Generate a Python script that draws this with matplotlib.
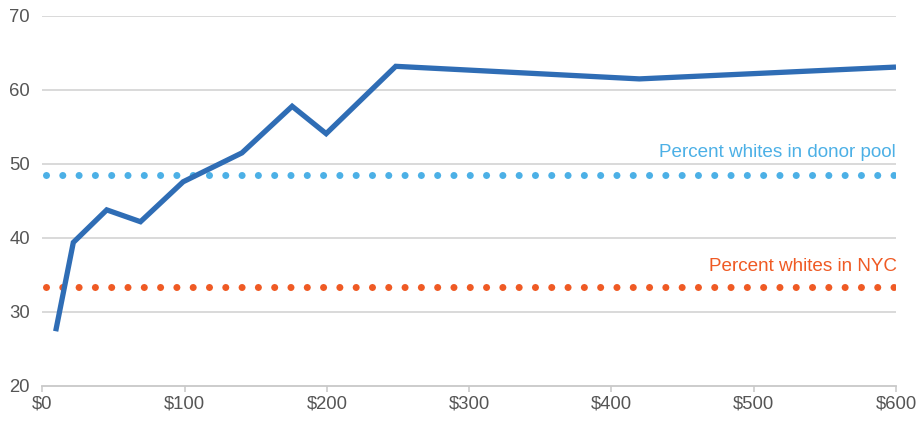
import matplotlib
matplotlib.use("Agg")
import matplotlib.pyplot as plt

# Data
donation = [9.4, 21.8, 45.3, 69, 99, 140.3, 175.6, 199.5, 248.4, 419.6, 600]
pct_white = [27.4, 39.4, 43.8, 42.2, 47.6, 51.5, 57.8, 54.1, 63.2, 61.5, 63.1]
donor_pool_pct = 48.55
nyc_pct = 33.4
x_ticks = [0, 100, 200, 300, 400, 500, 600]
x_tick_labels = ["$0", "$100", "$200", "$300", "$400", "$500", "$600"]
y_ticks = [20, 30, 40, 50, 60, 70]
ref_x_range = [2.7, 600]
label_donor = "Percent whites in donor pool"
label_nyc = "Percent whites in NYC"

plt.rcParams['font.family'] = ['Liberation Sans', 'DejaVu Sans']

DPI = 100
fig = plt.figure(figsize=(922 / DPI, 421 / DPI), dpi=DPI)
ax = fig.add_axes([42.3 / 922, 1 - 386 / 421, (896 - 42.3) / 922, (386 - 16) / 421])

ax.set_xlim(0, 600)
ax.set_ylim(20, 70)

# gridlines
for y in y_ticks[1:]:
    ax.axhline(y, color="#cfcfcf", lw=1.1, zorder=1)

# dotted reference lines
def dotted(y, color):
    ln, = ax.plot(ref_x_range, [y, y], color=color, lw=5.1, zorder=2,
                  linestyle=(0, (0.001, 2.3)), dash_capstyle='round')
    return ln

dotted(donor_pool_pct, "#4cb0e6")
dotted(nyc_pct, "#ef5a24")

# main line
ax.plot(donation, pct_white, color="#2f6db5", lw=3.8, zorder=3,
        solid_joinstyle='miter', solid_capstyle='butt')

# annotations
ax.text(599.5, donor_pool_pct + 3.0, label_donor, color="#4cb0e6", fontsize=13.6,
        ha="right", va="center")
ax.text(601, nyc_pct + 2.8, label_nyc, color="#ef5a24", fontsize=13.6,
        ha="right", va="center")

# axes styling
for s in ["top", "right", "left"]:
    ax.spines[s].set_visible(False)
ax.spines["bottom"].set_color("#c8c8c8")
ax.spines["bottom"].set_linewidth(1.3)

ax.set_xticks(x_ticks)
ax.set_xticklabels(x_tick_labels)
ax.set_yticks(y_ticks)
ax.tick_params(axis="x", length=4, width=1.1, color="#c8c8c8", pad=3,
               labelsize=13.3, labelcolor="#555555")
ax.tick_params(axis="y", length=0, pad=9, labelsize=13.3, labelcolor="#555555")
for lbl in ax.get_xticklabels():
    lbl.set_clip_on(False)

fig.savefig("out.png", dpi=DPI)
